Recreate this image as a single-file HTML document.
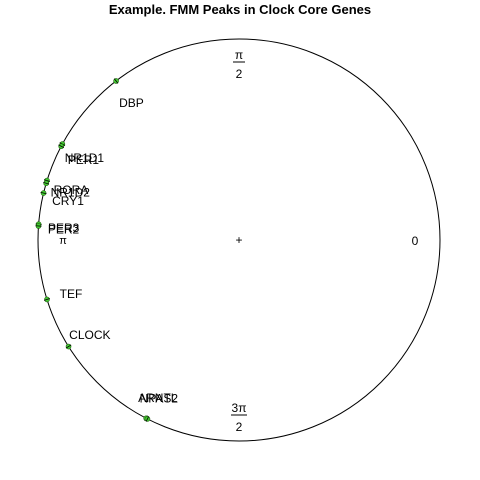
<!DOCTYPE html>
<html><head><meta charset="utf-8">
<style>
html,body{margin:0;padding:0;background:#fff;}
svg{display:block;font-family:"Liberation Sans",Arial,sans-serif;}
</style></head>
<body>
<svg id="chart" width="480" height="480" viewBox="0 0 480 480">
<rect width="480" height="480" fill="#fff"/>
<text x="240" y="14" text-anchor="middle" font-size="13" font-weight="bold">Example. FMM Peaks in Clock Core Genes</text>
<circle cx="239" cy="240" r="201" fill="none" stroke="#000" stroke-width="1"/>
<text x="239" y="244" text-anchor="middle" font-size="12">+</text>
<g font-size="12" fill="#000">
<text x="415" y="245" text-anchor="middle">0</text>
<text x="239" y="59" text-anchor="middle">π</text>
<line x1="233" y1="62" x2="245" y2="62" stroke="#000"/>
<text x="239" y="78" text-anchor="middle">2</text>
<text x="63" y="244" text-anchor="middle" font-size="11">π</text>
<text x="239" y="412" text-anchor="middle">3π</text>
<line x1="231" y1="415" x2="247" y2="415" stroke="#000"/>
<text x="239" y="431" text-anchor="middle">2</text>
</g>
<g id="marks"></g>
</svg>
<script>
const genes = ["DBP","NR1D1","PER1","RORA","NR1D2","CRY1","PER3","PER2","TEF","CLOCK","ARNTL","NPAS2"];
const peakDegrees = [127.7,151.5,152.2,162.8,163.6,166.5,175.5,176.0,197.2,212.0,242.5,242.9];
const cx = 239, cy = 240, R = 201, labelFrac = 0.875;
const ns = "http://www.w3.org/2000/svg";
const g = document.getElementById("marks");
function px(deg, r){ return cx + r*Math.cos(deg*Math.PI/180); }
function py(deg, r){ return cy - r*Math.sin(deg*Math.PI/180); }
genes.forEach((name,i)=>{
  const a = peakDegrees[i];
  const x = px(a,R), y = py(a,R);
  const dot = document.createElementNS(ns,"circle");
  dot.setAttribute("cx",x); dot.setAttribute("cy",y); dot.setAttribute("r",2.5);
  dot.setAttribute("fill","#44cc33"); dot.setAttribute("stroke","#226611"); dot.setAttribute("stroke-width","0.6");
  
  
  g.appendChild(dot);
  const tk = document.createElementNS(ns,"line");
  tk.setAttribute("x1",px(a,R-3)); tk.setAttribute("y1",py(a,R-3));
  tk.setAttribute("x2",px(a,R+3)); tk.setAttribute("y2",py(a,R+3));
  tk.setAttribute("stroke","#000"); tk.setAttribute("stroke-width","0.8");
  
  
  g.appendChild(tk);
  const t = document.createElementNS(ns,"text");
  t.setAttribute("x",px(a,R*labelFrac)); t.setAttribute("y",py(a,R*labelFrac)+6);
  t.setAttribute("text-anchor","middle"); t.setAttribute("font-size","12");
  t.textContent = name;
  
  
  g.appendChild(t);
});
</script>
</body></html>
